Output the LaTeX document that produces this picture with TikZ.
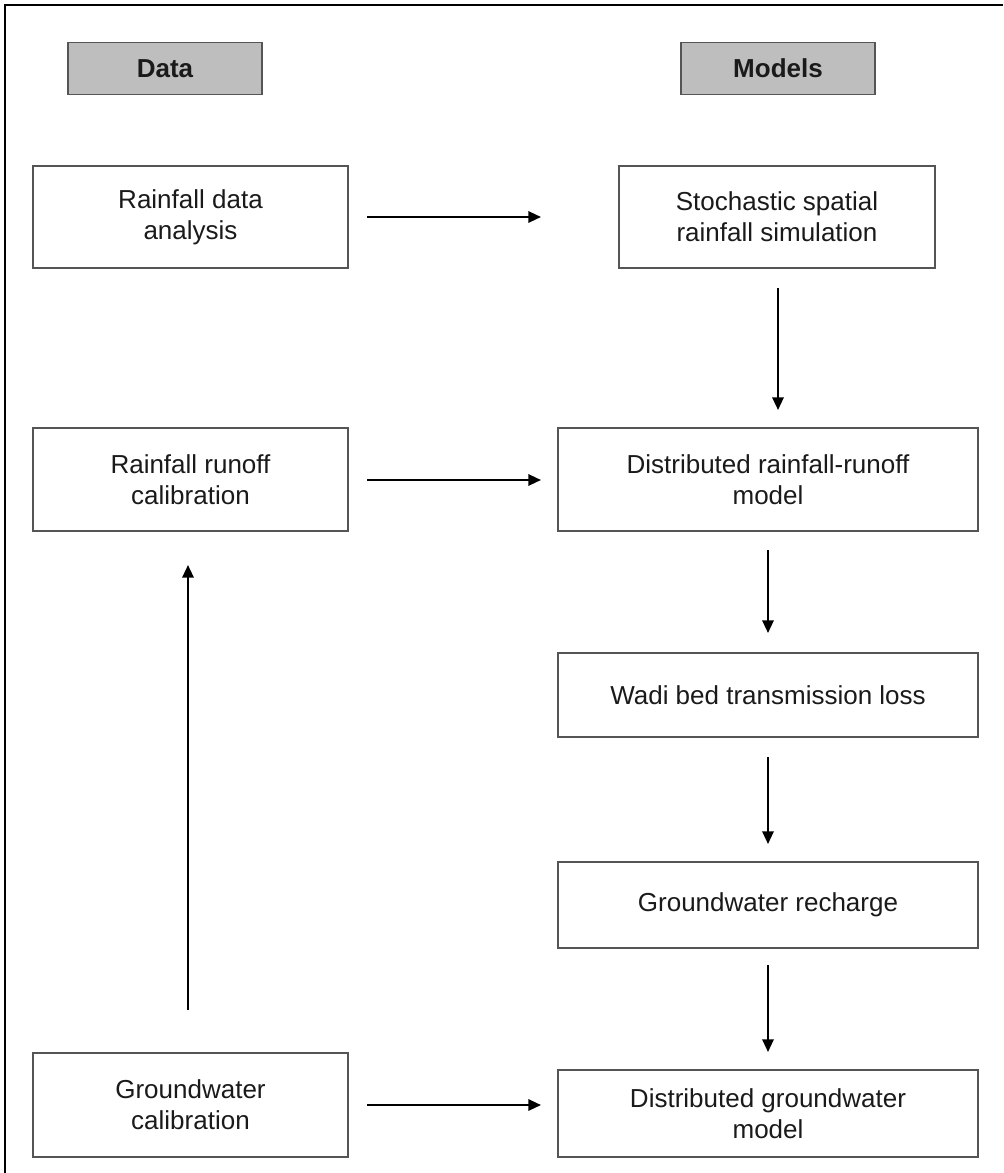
\documentclass[tikz,border=0pt]{standalone}
\usepackage{fontspec}
\setmainfont{Liberation Sans}
\usetikzlibrary{arrows.meta}
\definecolor{boxline}{HTML}{555555}
\definecolor{headfill}{HTML}{BEBEBE}
\definecolor{ink}{HTML}{1A1A1A}
\begin{document}
\begin{tikzpicture}[x=0.75pt,y=-0.75pt,
  box/.style={draw=boxline,line width=1.2pt,fill=white,inner sep=0pt,align=center,text=ink,
    font=\fontsize{19.5pt}{23.5pt}\selectfont,minimum width=236.25pt},
  widebox/.style={box,minimum width=315pt},
  head/.style={draw=boxline,line width=1.2pt,fill=headfill,inner sep=0pt,text=ink,
    font=\fontsize{19.5pt}{23.5pt}\selectfont\bfseries,minimum width=145.5pt,minimum height=39pt},
  flow/.style={line width=1.6pt,-{Triangle[length=9.5pt,width=8.5pt]}}]
\useasboundingbox (0,0) rectangle (1003,1173);
% frame on the top and left sides
\draw[line width=2.2pt] (5,1173) -- (5,5) -- (1003,5);
% column headings
\node[head] (hdata) at (165,68.5) {Data};
\node[head] (hmodels) at (778,68.5) {Models};
% data column
\node[box,minimum height=76.5pt] (rda) at (190.5,217) {Rainfall data\\analysis};
\node[box,minimum height=77.25pt] (rrc) at (190.5,479.5) {Rainfall runoff\\calibration};
\node[box,minimum height=78pt] (gwc) at (190.5,1105) {Groundwater\\calibration};
% model column
\node[box,minimum width=237pt,minimum height=76.5pt] (ssr) at (777,217) {Stochastic spatial\\rainfall simulation};
\node[widebox,minimum height=77.25pt] (drr) at (768,479.5) {Distributed rainfall-runoff\\model};
\node[widebox,minimum height=63pt] (wbt) at (768,695) {Wadi bed transmission loss};
\node[widebox,minimum height=64.5pt] (gwr) at (768,905) {Groundwater recharge};
\node[widebox,minimum height=65.25pt] (dgw) at (768,1113.5) {Distributed groundwater\\model};
% arrow end points
\coordinate (a1s) at (367,217);  \coordinate (a1e) at (541,217);
\coordinate (a2s) at (778,288);  \coordinate (a2e) at (778,410);
\coordinate (a3s) at (367,480);  \coordinate (a3e) at (541,480);
\coordinate (a4s) at (768,550);  \coordinate (a4e) at (768,633);
\coordinate (a5s) at (768,757);  \coordinate (a5e) at (768,844);
\coordinate (a6s) at (768,965);  \coordinate (a6e) at (768,1052);
\coordinate (a7s) at (188,1010); \coordinate (a7e) at (188,565);
\coordinate (a8s) at (367,1105); \coordinate (a8e) at (541,1105);
% connectors
\draw[flow] (a1s) -- (a1e);
\draw[flow] (a2s) -- (a2e);
\draw[flow] (a3s) -- (a3e);
\draw[flow] (a4s) -- (a4e);
\draw[flow] (a5s) -- (a5e);
\draw[flow] (a6s) -- (a6e);
\draw[flow] (a7s) -- (a7e);
\draw[flow] (a8s) -- (a8e);
\end{tikzpicture}
\end{document}
